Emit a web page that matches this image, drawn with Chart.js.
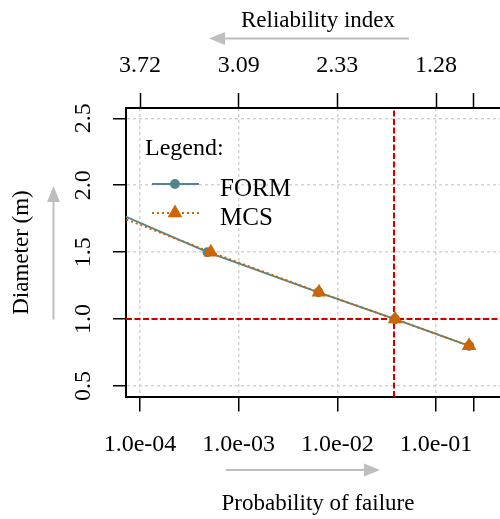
<!DOCTYPE html>
<html>
<head>
<meta charset="utf-8">
<script src="https://cdn.jsdelivr.net/npm/chart.js@4/dist/chart.umd.min.js"></script>
<style>
  html, body { margin: 0; padding: 0; background: #fff; overflow: hidden; }
  #wrap { width: 500px; height: 519px; overflow: hidden; }
  canvas { display: block; }
</style>
</head>
<body>
<!-- the plot frame runs a little past the right edge of the visible area -->
<div id="wrap"><canvas id="c" width="510" height="519"></canvas></div>
<script>
// Required pile diameter against probability of failure: FORM vs Monte Carlo
const diameterForm = [2.0, 1.5, 1.2, 1.0, 0.8];
const pfForm       = [1.33e-5, 4.83e-4, 6.44e-3, 3.84e-2, 2.17e-1];
const diameterMcs  = [2.0, 1.5, 1.2, 1.0, 0.8];
const pfMcs        = [9.2e-6, 5.22e-4, 6.52e-3, 3.84e-2, 2.16e-1];

// Design target (red reference lines)
const targetPf = 0.0375;
const targetDiameter = 1.0;

// Axis ticks
const pfTicks        = [1e-4, 1e-3, 1e-2, 1e-1, 0.242];
const pfTickLabels   = ['1.0e-04', '1.0e-03', '1.0e-02', '1.0e-01', ''];
const betaTickLabels = ['3.72', '3.09', '2.33', '1.28', ''];
const diameterTicks  = [0.5, 1.0, 1.5, 2.0, 2.5];

// Axis ranges
const xMin = 7.21e-5, xMax = 0.562;
const yMin = 0.418, yMax = 2.577;

const serif = "'Liberation Serif', 'Times New Roman', serif";
const gridGray = '#D3D3D3';
const formColor = '#53868B';
const mcsColor = '#CD6600';
const targetColor = '#CD0000';
const arrowGray = '#BEBEBE';

const toPoints = (xs, ys) => xs.map((x, i) => ({ x: x, y: ys[i] }));

function drawArrow(ctx, x1, y1, x2, y2) {
  const head = 16, half = 6.5;
  const a = Math.atan2(y2 - y1, x2 - x1);
  const bx = x2 - head * Math.cos(a), by = y2 - head * Math.sin(a);
  ctx.strokeStyle = arrowGray;
  ctx.fillStyle = arrowGray;
  ctx.lineWidth = 2;
  ctx.setLineDash([]);
  ctx.beginPath();
  ctx.moveTo(x1, y1);
  ctx.lineTo(bx, by);
  ctx.stroke();
  ctx.beginPath();
  ctx.moveTo(x2, y2);
  ctx.lineTo(bx - half * Math.sin(a), by + half * Math.cos(a));
  ctx.lineTo(bx + half * Math.sin(a), by - half * Math.cos(a));
  ctx.closePath();
  ctx.fill();
}

// Direction arrows next to the axis titles, plus the in-plot legend
const decorations = {
  id: 'decorations',
  afterDraw(chart) {
    const ctx = chart.ctx;
    ctx.save();
    drawArrow(ctx, 409, 38.5, 209, 38.5);
    drawArrow(ctx, 226, 470, 380, 470);
    drawArrow(ctx, 53.5, 319.5, 53.5, 186);

    ctx.fillStyle = '#000';
    ctx.textAlign = 'left';
    ctx.textBaseline = 'alphabetic';
    ctx.font = '24px ' + serif;
    ctx.fillText('Legend:', 145, 155);

    const entries = [chart.data.datasets[1], chart.data.datasets[0]];
    const rows = [184, 213];
    entries.forEach((ds, i) => {
      const y = rows[i];
      ctx.strokeStyle = ds.borderColor;
      ctx.lineWidth = ds.borderWidth;
      ctx.setLineDash(ds.borderDash || []);
      ctx.beginPath();
      ctx.moveTo(152, y);
      ctx.lineTo(199, y);
      ctx.stroke();
      ctx.setLineDash([]);
      ctx.fillStyle = ds.pointBackgroundColor;
      Chart.helpers.drawPoint(ctx, {
        pointStyle: ds.pointStyle, radius: ds.pointRadius, rotation: 0, borderWidth: 0
      }, 175, y);
      ctx.fillStyle = '#000';
      ctx.font = '25px ' + serif;
      ctx.fillText(ds.label, 220, y + 11.5);
    });
    ctx.restore();
  }
};

const pfTickList = () => pfTicks.map(v => ({ value: v }));
const noSidePadding = s => { s.paddingLeft = 0; s.paddingRight = 0; };

new Chart(document.getElementById('c'), {
  type: 'line',
  data: {
    datasets: [
      {
        label: 'MCS',
        data: toPoints(pfMcs, diameterMcs),
        borderColor: mcsColor,
        backgroundColor: mcsColor,
        borderWidth: 2,
        borderDash: [2, 3],
        pointStyle: 'triangle',
        pointRadius: 8.5,
        pointBorderWidth: 0,
        pointBackgroundColor: mcsColor,
        order: 1
      },
      {
        label: 'FORM',
        data: toPoints(pfForm, diameterForm),
        borderColor: formColor,
        backgroundColor: formColor,
        borderWidth: 2,
        pointStyle: 'circle',
        pointRadius: 5,
        pointBorderWidth: 0,
        pointBackgroundColor: formColor,
        order: 2
      },
      {
        label: 'target pf',
        data: [{ x: targetPf, y: yMin }, { x: targetPf, y: yMax }],
        borderColor: targetColor,
        borderWidth: 2,
        borderDash: [6, 2.5],
        pointRadius: 0,
        order: 3
      },
      {
        label: 'target D',
        data: [{ x: xMin, y: targetDiameter }, { x: xMax, y: targetDiameter }],
        borderColor: targetColor,
        borderWidth: 2,
        borderDash: [6, 2.5],
        pointRadius: 0,
        order: 3
      }
    ]
  },
  options: {
    responsive: false,
    animation: false,
    devicePixelRatio: 1,
    layout: { autoPadding: false, padding: 0 },
    plugins: { legend: { display: false }, tooltip: { enabled: false } },
    scales: {
      x: {
        type: 'logarithmic',
        position: 'bottom',
        bounds: 'data',
        min: xMin,
        max: xMax,
        afterBuildTicks: s => { s.ticks = pfTickList(); },
        afterFit: s => { s.height = 122; noSidePadding(s); },
        ticks: {
          autoSkip: false, maxRotation: 0, minRotation: 0, padding: 19,
          color: '#000', font: { family: serif, size: 24 },
          callback: (v, i) => pfTickLabels[i]
        },
        grid: {
          color: c => (c.index !== undefined && pfTickLabels[c.index] === '') ? 'rgba(0,0,0,0)' : gridGray,
          lineWidth: 1.5, tickLength: 14.5, tickColor: '#000', tickWidth: 1.5, tickBorderDash: []
        },
        border: { display: true, color: '#000', width: 2, dash: [3, 3] },
        title: {
          display: true, text: 'Probability of failure', color: '#000',
          font: { family: serif, size: 23 }, padding: { top: 0, bottom: 1 }
        }
      },
      x2: {
        type: 'logarithmic',
        position: 'top',
        bounds: 'data',
        min: xMin,
        max: xMax,
        afterBuildTicks: s => { s.ticks = pfTickList(); },
        afterFit: s => { s.height = 108; noSidePadding(s); },
        ticks: {
          autoSkip: false, maxRotation: 0, minRotation: 0, padding: 12.5,
          color: '#000', font: { family: serif, size: 24 },
          callback: (v, i) => betaTickLabels[i]
        },
        grid: {
          drawOnChartArea: false, tickLength: 15, tickColor: '#000', tickWidth: 1.5, tickBorderDash: []
        },
        border: { display: true, color: '#000', width: 2 },
        title: {
          display: true, text: 'Reliability index', color: '#000',
          font: { family: serif, size: 23 }, padding: { top: 6.7, bottom: 0 }
        }
      },
      y: {
        type: 'linear',
        position: 'left',
        bounds: 'data',
        min: yMin,
        max: yMax,
        afterBuildTicks: s => { s.ticks = diameterTicks.map(v => ({ value: v })); },
        afterFit: s => { s.width = 126; s.paddingTop = 0; s.paddingBottom = 0; },
        ticks: {
          autoSkip: false, minRotation: 90, maxRotation: 90, crossAlign: 'center', padding: 14.4,
          color: '#000', font: { family: serif, size: 24 },
          callback: v => Number(v).toFixed(1)
        },
        grid: {
          color: gridGray, lineWidth: 1.5, tickLength: 13, tickColor: '#000', tickWidth: 1.5, tickBorderDash: []
        },
        border: { display: true, color: '#000', width: 2, dash: [3, 3] },
        title: {
          display: true, text: 'Diameter (m)', color: '#000',
          font: { family: serif, size: 23 }, padding: { top: 7.7, bottom: 0 }
        }
      }
    }
  },
  plugins: [decorations]
});
</script>
</body>
</html>
